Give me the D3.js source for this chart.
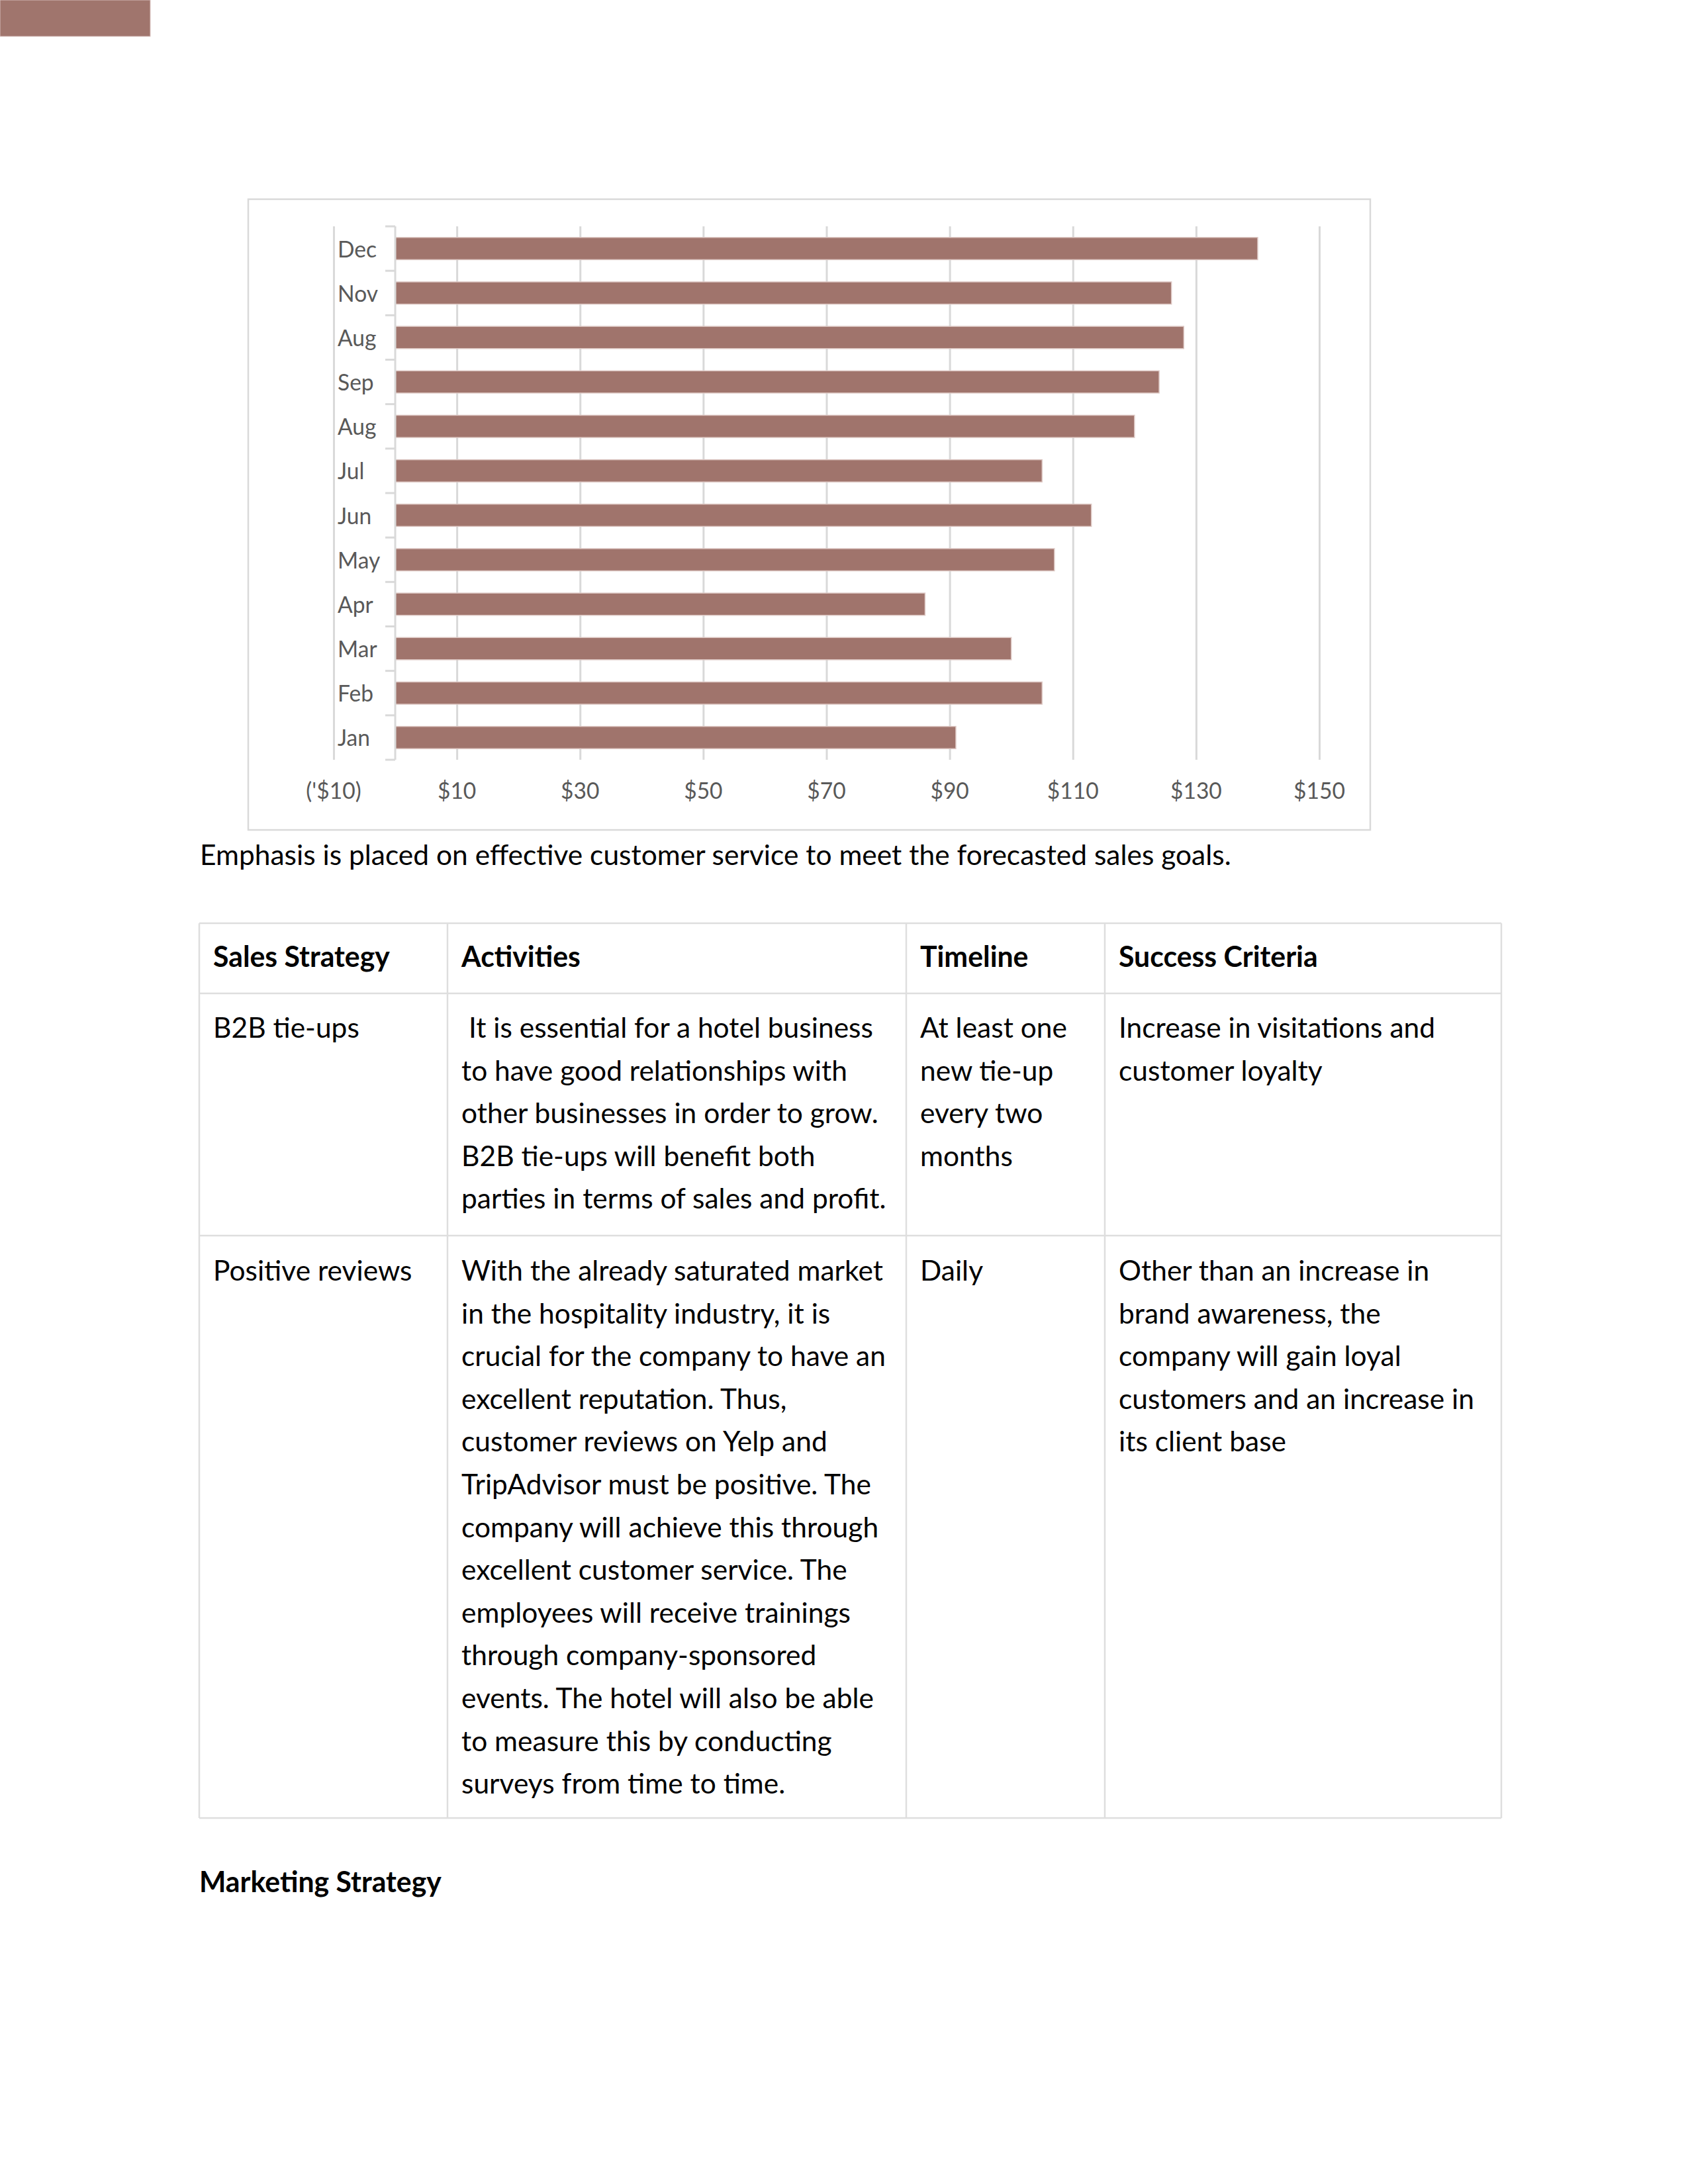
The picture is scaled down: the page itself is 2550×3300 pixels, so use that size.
<!DOCTYPE html>
<html>
<head>
<meta charset="utf-8">
<script src="https://cdn.jsdelivr.net/npm/d3@7"></script>
<style>
  html, body { margin: 0; padding: 0; background: #ffffff; }
  svg { display: block; }
</style>
</head>
<body>
<svg id="page" width="2550" height="3300"></svg>
<script>
// ---------------- DATA ----------------
const months = ["Jan", "Feb", "Mar", "Apr", "May", "Jun", "Jul", "Aug", "Sep", "Aug", "Nov", "Dec"];
const sales = [91, 105, 100, 86, 107, 113, 105, 120, 124, 128, 126, 140];
const xTickValues = [-10, 10, 30, 50, 70, 90, 110, 130, 150];
const xTickLabels = ["('$10)", "$10", "$30", "$50", "$70", "$90", "$110", "$130", "$150"];

const caption = "Emphasis is placed on effective customer service to meet the forecasted sales goals.";
const tableHeaders = ["Sales Strategy", "Activities", "Timeline", "Success Criteria"];
const row1 = [
  ["B2B tie-ups"],
  [" It is essential for a hotel business", "to have good relationships with", "other businesses in order to grow.", "B2B tie-ups will benefit both", "parties in terms of sales and profit."],
  ["At least one", "new tie-up", "every two", "months"],
  ["Increase in visitations and", "customer loyalty"]
];
const row2 = [
  ["Positive reviews"],
  ["With the already saturated market", "in the hospitality industry, it is", "crucial for the company to have an", "excellent reputation. Thus,", "customer reviews on Yelp and", "TripAdvisor must be positive. The", "company will achieve this through", "excellent customer service. The", "employees will receive trainings", "through company-sponsored", "events. The hotel will also be able", "to measure this by conducting", "surveys from time to time."],
  ["Daily"],
  ["Other than an increase in", "brand awareness, the", "company will gain loyal", "customers and an increase in", "its client base"]
];
const heading = "Marketing Strategy";

// ---------------- SETUP ----------------
const svg = d3.select("#page");
svg.append("rect").attr("width", 2550).attr("height", 3300).attr("fill", "#ffffff");

const FONT = "Lato, 'Open Sans', 'Noto Sans', sans-serif";
const BODY_SIZE = 43;
const CHART_SIZE = 34;

function measure(str, size, weight) {
  const t = svg.append("text").attr("font-family", FONT).attr("font-size", size)
    .attr("font-weight", weight).style("white-space", "pre").text(str);
  const w = t.node().getComputedTextLength();
  t.remove();
  return w;
}
// horizontal factor so that the substitute font matches the reference text widths
const kReg = 1558 / measure(caption, BODY_SIZE, 400);
const kBold = 366 / measure(heading, BODY_SIZE, 700);

function addText(parent, str, x, y, o = {}) {
  const k = o.weight === 700 ? kBold : kReg;
  return parent.append("text")
    .attr("transform", `translate(${x},${y}) scale(${k},1)`)
    .attr("font-family", FONT)
    .attr("font-size", o.size || BODY_SIZE)
    .attr("font-weight", o.weight || 400)
    .attr("fill", o.fill || "#000000")
    .attr("text-anchor", o.anchor || "start")
    .style("white-space", "pre")
    .text(str);
}

// decorative top-left block
svg.append("rect").attr("x", 0).attr("y", 0).attr("width", 227).attr("height", 55)
  .attr("fill", "#a0756d").attr("stroke", "#d9c3bf").attr("stroke-width", 1);

// ---------------- CHART ----------------
const box = { x: 375, y: 301, w: 1695, h: 953 };
svg.append("rect").attr("x", box.x).attr("y", box.y).attr("width", box.w).attr("height", box.h)
  .attr("fill", "#ffffff").attr("stroke", "#d9d9d9").attr("stroke-width", 2.5);

const plotTop = 342, plotBottom = 1148;
const x = d3.scaleLinear().domain([-10, 150]).range([504, 1993]);
const y = d3.scaleBand().domain(d3.range(months.length)).range([plotBottom, plotTop])
  .paddingInner(0.5).paddingOuter(0.25);

const chart = svg.append("g");

// vertical gridlines via axis
const gridAxis = d3.axisTop(x).tickValues(xTickValues).tickSize(-(plotBottom - plotTop)).tickFormat("");
chart.append("g").attr("transform", `translate(0,${plotTop})`).call(gridAxis)
  .call(g => g.select(".domain").remove())
  .call(g => g.selectAll("line").attr("stroke", "#d9d9d9").attr("stroke-width", 3));

// bars
chart.append("g").selectAll("rect").data(sales).join("rect")
  .attr("x", x(0))
  .attr("y", (d, i) => y(i))
  .attr("width", d => x(d) - x(0))
  .attr("height", y.bandwidth())
  .attr("fill", "#a0746c")
  .attr("stroke", "#dcc6c2")
  .attr("stroke-width", 1.5);

// category axis line at zero with ticks at band boundaries
const step = y.step();
const boundaries = d3.range(months.length + 1).map(i => plotBottom - i * step);
const axisG = chart.append("g");
axisG.append("line").attr("x1", x(0)).attr("x2", x(0)).attr("y1", plotTop).attr("y2", plotBottom)
  .attr("stroke", "#d9d9d9").attr("stroke-width", 3);
axisG.selectAll("line.tk").data(boundaries).join("line").attr("class", "tk")
  .attr("x1", x(0) - 15).attr("x2", x(0)).attr("y1", d => d).attr("y2", d => d)
  .attr("stroke", "#d9d9d9").attr("stroke-width", 3);

// category labels (left aligned, as in the reference)
months.forEach((m, i) => {
  addText(chart, m, 510, y(i) + y.bandwidth() / 2 + 13, { size: CHART_SIZE, fill: "#595959" });
});

// value axis labels
xTickValues.forEach((v, i) => {
  addText(chart, xTickLabels[i], x(v), 1207, { size: CHART_SIZE, fill: "#595959", anchor: "middle" });
});

// ---------------- TEXT ----------------
addText(svg, caption, 302, 1307);

// ---------------- TABLE ----------------
const colEdges = [301, 676, 1369, 1669, 2268];
const rowEdges = [1395, 1501, 1867, 2747];
const lineGap = 64.6;
const tbl = svg.append("g");

tbl.selectAll("line.h").data(rowEdges).join("line").attr("class", "h")
  .attr("x1", colEdges[0]).attr("x2", colEdges[colEdges.length - 1])
  .attr("y1", d => d).attr("y2", d => d)
  .attr("stroke", "#dedede").attr("stroke-width", 2.5);
tbl.selectAll("line.v").data(colEdges).join("line").attr("class", "v")
  .attr("y1", rowEdges[0]).attr("y2", rowEdges[rowEdges.length - 1])
  .attr("x1", d => d).attr("x2", d => d)
  .attr("stroke", "#dedede").attr("stroke-width", 2.5);

tableHeaders.forEach((h, c) => addText(tbl, h, colEdges[c] + 21, 1461, { weight: 700 }));
row1.forEach((lines, c) => lines.forEach((s, j) => addText(tbl, s, colEdges[c] + 21, 1568 + j * lineGap)));
row2.forEach((lines, c) => lines.forEach((s, j) => addText(tbl, s, colEdges[c] + 21, 1935 + j * lineGap)));

addText(svg, heading, 301, 2859, { weight: 700 });
</script>
</body>
</html>
